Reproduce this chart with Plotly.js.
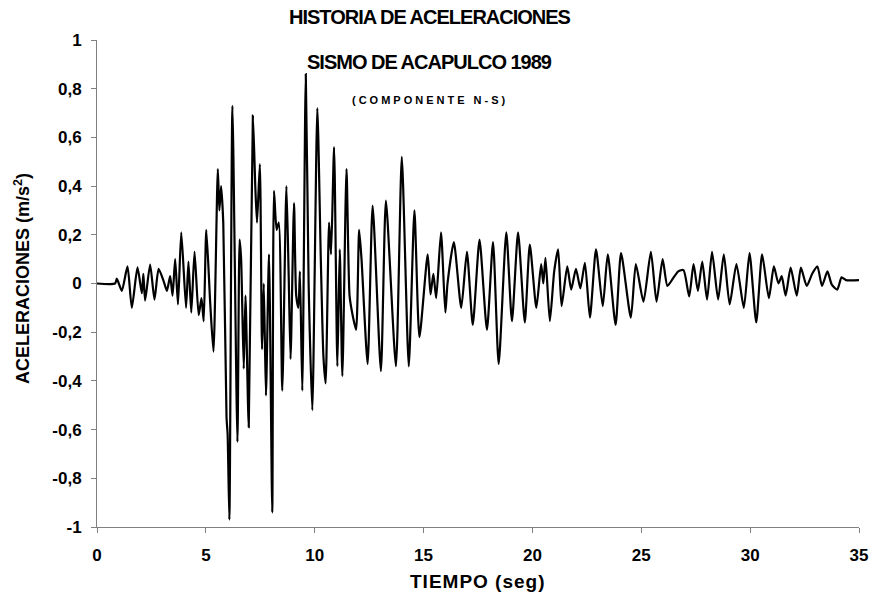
<!DOCTYPE html>
<html>
<head>
<meta charset="utf-8">
<script src="https://cdn.plot.ly/plotly-3.0.1.min.js"></script>
<style>
html,body{margin:0;padding:0;background:#fff;}
#chart{width:875px;height:602px;}
</style>
</head>
<body>
<div id="chart"></div>
<script>
// Time (s) of the read peaks / troughs of the record
const tiempo = [0, 0.83, 0.91, 1.14, 1.40, 1.60, 1.86, 2.06, 2.13, 2.21, 2.44, 2.64, 2.83, 3.06, 3.21, 3.36, 3.47, 3.59, 3.72, 3.87,
  4.09, 4.20, 4.33, 4.48, 4.67, 4.80, 4.90, 5.02, 5.20, 5.35, 5.55, 5.62, 5.70, 5.80, 5.95, 6.00, 6.08, 6.22, 6.45, 6.55,
  6.62, 6.74, 6.82, 6.97, 7.16, 7.27, 7.35, 7.48, 7.58, 7.66, 7.76, 7.90, 8.05, 8.13, 8.25, 8.35, 8.51, 8.70, 8.80, 8.89,
  9.05, 9.15, 9.25, 9.32, 9.43, 9.59, 9.72, 9.89, 10.12, 10.28, 10.40, 10.50, 10.66, 10.75, 10.89, 11.04, 11.15, 11.27, 11.46, 11.60,
  11.72, 11.90, 12.04, 12.15, 12.43, 12.66, 13.04, 13.27, 13.73, 14.00, 14.32, 14.58, 14.81, 15.19, 15.32, 15.45, 15.58, 15.80, 16.00, 16.10,
  16.39, 16.73, 16.99, 17.26, 17.57, 17.91, 18.19, 18.45, 18.80, 19.06, 19.34, 19.65, 19.88, 20.18, 20.40, 20.50, 20.60, 20.80, 21.00, 21.18,
  21.34, 21.60, 21.78, 22.00, 22.20, 22.41, 22.64, 22.92, 23.23, 23.46, 23.82, 24.07, 24.52, 24.75, 25.10, 25.44, 25.70, 25.98, 26.20, 26.45,
  26.70, 26.94, 27.20, 27.40, 27.60, 27.80, 28.02, 28.25, 28.53, 28.79, 29.06, 29.37, 29.71, 29.97, 30.28, 30.55, 30.86, 31.09, 31.30, 31.45,
  31.63, 31.86, 32.14, 32.33, 32.60, 32.85, 33.09, 33.30, 33.55, 33.75, 34.00, 34.20, 34.40, 35.0];

// Acceleration (m/s2) at those instants
const aceleracion = [0, 0, 0.02, -0.03, 0.07, -0.10, 0.066, -0.04, 0.04, -0.07, 0.078, -0.066, 0.06, 0.01, -0.03, 0.03, -0.05, 0.10, -0.086, 0.21,
  -0.10, 0.09, -0.12, 0.13, -0.13, -0.06, -0.155, 0.22, -0.08, -0.28, 0.47, 0.30, 0.40, 0.25, -0.55, -0.62, -0.97, 0.73, -0.65, 0.18,
  0.10, -0.35, -0.05, -0.59, 0.69, 0.40, 0.25, 0.49, -0.27, 0.0, -0.46, 0.12, -0.94, 0.38, 0.22, 0.25, -0.44, 0.40, 0.05, -0.31,
  0.33, -0.05, -0.10, 0.05, -0.44, 0.86, 0.0, -0.52, 0.72, 0.10, -0.30, -0.41, 0.25, 0.12, 0.56, -0.34, 0.14, -0.38, 0.47, -0.05,
  -0.12, -0.19, 0.22, 0.10, -0.33, 0.32, -0.36, 0.34, -0.34, 0.52, -0.34, 0.30, -0.22, 0.12, -0.045, 0.04, -0.06, 0.21, -0.12, 0.0,
  0.17, -0.10, 0.13, -0.17, 0.18, -0.19, 0.17, -0.33, 0.21, -0.155, 0.21, -0.16, 0.16, -0.10, 0.08, 0.0, 0.105, -0.155, 0.05, 0.14,
  -0.093, 0.07, -0.025, 0.06, -0.02, 0.085, -0.14, 0.14, -0.093, 0.12, -0.17, 0.125, -0.14, 0.08, -0.075, 0.13, -0.075, 0.10, -0.01, 0.02,
  0.05, 0.055, -0.053, 0.08, -0.03, 0.09, -0.066, 0.13, -0.066, 0.12, -0.086, 0.08, -0.10, 0.125, -0.16, 0.12, -0.06, 0.07, 0.0, 0.03,
  -0.05, 0.065, -0.05, 0.065, -0.01, 0.04, 0.07, -0.01, 0.05, -0.005, -0.025, 0.025, 0.014, 0.014];

const xTickVals = [0, 5, 10, 15, 20, 25, 30, 35];
const xTickText = ['0', '5', '10', '15', '20', '25', '30', '35'];
const yTickVals = [-1, -0.8, -0.6, -0.4, -0.2, 0, 0.2, 0.4, 0.6, 0.8, 1];
const yTickText = ['-1', '-0,8', '-0,6', '-0,4', '-0,2', '0', '0,2', '0,4', '0,6', '0,8', '1'];

const tituloLineas = ['HISTORIA DE ACELERACIONES', 'SISMO DE ACAPULCO 1989', '(COMPONENTE N-S)'];
const tituloX = 'TIEMPO (seg)';
const tituloY = 'ACELERACIONES (m/s<sup>2</sup>)';

const FONT = 'Liberation Sans, Arial, sans-serif';

const trace = {
  x: tiempo, y: aceleracion, type: 'scatter', mode: 'lines',
  line: {color: '#000', width: 2.2, shape: 'spline', smoothing: 0.6},
  hoverinfo: 'skip'
};

const axisCommon = {
  showgrid: false, zeroline: false, showline: true, linecolor: '#808080', linewidth: 1,
  ticks: 'outside', ticklen: 5, tickcolor: '#808080', tickwidth: 1,
  tickfont: {family: FONT, size: 17, color: '#000', weight: 'bold'}
};

const layout = {
  width: 875, height: 602,
  margin: {l: 97, r: 16, t: 40, b: 75},
  paper_bgcolor: '#fff', plot_bgcolor: '#fff',
  showlegend: false,
  xaxis: Object.assign({}, axisCommon, {range: [0, 35], tickmode: 'array', tickvals: xTickVals, ticktext: xTickText, ticklabelstandoff: 8, fixedrange: true}),
  yaxis: Object.assign({}, axisCommon, {range: [-1, 1], tickmode: 'array', tickvals: yTickVals, ticktext: yTickText, ticklabelstandoff: 6, fixedrange: true}),
  annotations: [
    {text: '<b><span style="letter-spacing:-1px">' + tituloLineas[0] + '</span></b>', xref: 'paper', yref: 'paper', x: 0.437, y: 1.047, xanchor: 'center', yanchor: 'middle', showarrow: false,
      font: {family: FONT, size: 20, color: '#000'}},
    {text: '<b><span style="letter-spacing:-1px">' + tituloLineas[1] + '</span></b>', xref: 'paper', yref: 'paper', x: 0.437, y: 0.955, xanchor: 'center', yanchor: 'middle', showarrow: false,
      font: {family: FONT, size: 20, color: '#000'}},
    {text: '<b><span style="letter-spacing:3px">' + tituloLineas[2] + '</span></b>', xref: 'paper', yref: 'paper', x: 0.437, y: 0.877, xanchor: 'center', yanchor: 'middle', showarrow: false,
      font: {family: FONT, size: 11, color: '#000'}},
    {text: '<b><span style="letter-spacing:1px">' + tituloX + '</span></b>', xref: 'paper', yref: 'paper', x: 0.5, y: -0.111, xanchor: 'center', yanchor: 'middle', showarrow: false,
      font: {family: FONT, size: 19, color: '#000'}},
    {text: '<b>' + tituloY + '</b>', xref: 'paper', yref: 'paper', x: -0.098, y: 0.51, xanchor: 'center', yanchor: 'middle', textangle: -90, showarrow: false,
      font: {family: FONT, size: 18, color: '#000'}}
  ]
};

Plotly.newPlot('chart', [trace], layout, {staticPlot: true, displayModeBar: false});
</script>
</body>
</html>
